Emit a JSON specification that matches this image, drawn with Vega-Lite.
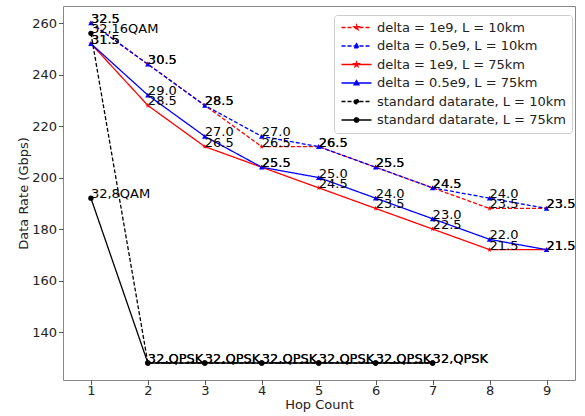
{
  "$schema": "https://vega.github.io/schema/vega-lite/v6.json",
  "width": 512,
  "height": 374,
  "autosize": {"type": "none"},
  "padding": {"left": 63, "top": 6, "right": 10, "bottom": 36},
  "background": "white",
  "config": {
    "font": "DejaVu Sans",
    "view": {"stroke": "#888888", "strokeWidth": 1},
    "axis": {
      "domain": false,
      "grid": false,
      "tickColor": "#555555",
      "tickSize": 4.5,
      "labelFont": "DejaVu Sans",
      "labelFontSize": 13,
      "labelColor": "#222222",
      "titleFont": "DejaVu Sans",
      "titleFontSize": 13,
      "titleFontWeight": "normal",
      "titleColor": "#222222"
    },
    "legend": {
      "title": null,
      "padding": 6,
      "fillColor": "rgba(255,255,255,0.85)",
      "strokeColor": "#cccccc",
      "cornerRadius": 3,
      "symbolSize": 100,
      "symbolOffset": 10,
      "symbolStrokeWidth": 1.3,
      "labelOffset": 14,
      "labelFont": "DejaVu Sans",
      "labelFontSize": 13,
      "labelColor": "#222222",
      "labelLimit": 300,
      "rowPadding": 4.5
    }
  },
  "data": {
    "values": [
      {"series": "delta = 1e9, L = 10km", "hop": 1, "rate": 260, "label": "32.5"},
      {"series": "delta = 1e9, L = 10km", "hop": 2, "rate": 244, "label": "30.5"},
      {"series": "delta = 1e9, L = 10km", "hop": 3, "rate": 228, "label": "28.5"},
      {"series": "delta = 1e9, L = 10km", "hop": 4, "rate": 212, "label": "26.5"},
      {"series": "delta = 1e9, L = 10km", "hop": 5, "rate": 212, "label": "26.5"},
      {"series": "delta = 1e9, L = 10km", "hop": 6, "rate": 204, "label": "25.5"},
      {"series": "delta = 1e9, L = 10km", "hop": 7, "rate": 196, "label": "24.5"},
      {"series": "delta = 1e9, L = 10km", "hop": 8, "rate": 188, "label": "23.5"},
      {"series": "delta = 1e9, L = 10km", "hop": 9, "rate": 188, "label": "23.5"},
      {"series": "delta = 0.5e9, L = 10km", "hop": 1, "rate": 260, "label": "32.5"},
      {"series": "delta = 0.5e9, L = 10km", "hop": 2, "rate": 244, "label": "30.5"},
      {"series": "delta = 0.5e9, L = 10km", "hop": 3, "rate": 228, "label": "28.5"},
      {"series": "delta = 0.5e9, L = 10km", "hop": 4, "rate": 216, "label": "27.0"},
      {"series": "delta = 0.5e9, L = 10km", "hop": 5, "rate": 212, "label": "26.5"},
      {"series": "delta = 0.5e9, L = 10km", "hop": 6, "rate": 204, "label": "25.5"},
      {"series": "delta = 0.5e9, L = 10km", "hop": 7, "rate": 196, "label": "24.5"},
      {"series": "delta = 0.5e9, L = 10km", "hop": 8, "rate": 192, "label": "24.0"},
      {"series": "delta = 0.5e9, L = 10km", "hop": 9, "rate": 188, "label": "23.5"},
      {"series": "delta = 1e9, L = 75km", "hop": 1, "rate": 252, "label": "31.5"},
      {"series": "delta = 1e9, L = 75km", "hop": 2, "rate": 228, "label": "28.5"},
      {"series": "delta = 1e9, L = 75km", "hop": 3, "rate": 212, "label": "26.5"},
      {"series": "delta = 1e9, L = 75km", "hop": 4, "rate": 204, "label": "25.5"},
      {"series": "delta = 1e9, L = 75km", "hop": 5, "rate": 196, "label": "24.5"},
      {"series": "delta = 1e9, L = 75km", "hop": 6, "rate": 188, "label": "23.5"},
      {"series": "delta = 1e9, L = 75km", "hop": 7, "rate": 180, "label": "22.5"},
      {"series": "delta = 1e9, L = 75km", "hop": 8, "rate": 172, "label": "21.5"},
      {"series": "delta = 1e9, L = 75km", "hop": 9, "rate": 172, "label": "21.5"},
      {"series": "delta = 0.5e9, L = 75km", "hop": 1, "rate": 252, "label": "31.5"},
      {"series": "delta = 0.5e9, L = 75km", "hop": 2, "rate": 232, "label": "29.0"},
      {"series": "delta = 0.5e9, L = 75km", "hop": 3, "rate": 216, "label": "27.0"},
      {"series": "delta = 0.5e9, L = 75km", "hop": 4, "rate": 204, "label": "25.5"},
      {"series": "delta = 0.5e9, L = 75km", "hop": 5, "rate": 200, "label": "25.0"},
      {"series": "delta = 0.5e9, L = 75km", "hop": 6, "rate": 192, "label": "24.0"},
      {"series": "delta = 0.5e9, L = 75km", "hop": 7, "rate": 184, "label": "23.0"},
      {"series": "delta = 0.5e9, L = 75km", "hop": 8, "rate": 176, "label": "22.0"},
      {"series": "delta = 0.5e9, L = 75km", "hop": 9, "rate": 172, "label": "21.5"},
      {"series": "standard datarate, L = 10km", "hop": 1, "rate": 256, "label": "32,16QAM"},
      {"series": "standard datarate, L = 10km", "hop": 2, "rate": 128, "label": "32,QPSK"},
      {"series": "standard datarate, L = 10km", "hop": 3, "rate": 128, "label": "32,QPSK"},
      {"series": "standard datarate, L = 10km", "hop": 4, "rate": 128, "label": "32,QPSK"},
      {"series": "standard datarate, L = 10km", "hop": 5, "rate": 128, "label": "32,QPSK"},
      {"series": "standard datarate, L = 10km", "hop": 6, "rate": 128, "label": "32,QPSK"},
      {"series": "standard datarate, L = 10km", "hop": 7, "rate": 128, "label": "32,QPSK"},
      {"series": "standard datarate, L = 75km", "hop": 1, "rate": 192, "label": "32,8QAM"},
      {"series": "standard datarate, L = 75km", "hop": 2, "rate": 128, "label": "32,QPSK"},
      {"series": "standard datarate, L = 75km", "hop": 3, "rate": 128, "label": "32,QPSK"},
      {"series": "standard datarate, L = 75km", "hop": 4, "rate": 128, "label": "32,QPSK"},
      {"series": "standard datarate, L = 75km", "hop": 5, "rate": 128, "label": "32,QPSK"},
      {"series": "standard datarate, L = 75km", "hop": 6, "rate": 128, "label": "32,QPSK"},
      {"series": "standard datarate, L = 75km", "hop": 7, "rate": 128, "label": "32,QPSK"}
    ]
  },
  "encoding": {
    "x": {
      "field": "hop", "type": "quantitative",
      "scale": {"domain": [0.51, 9.5], "nice": false, "zero": false},
      "axis": {"values": [1,2,3,4,5,6,7,8,9], "title": "Hop Count", "labelPadding": 0, "titlePadding": 1}
    },
    "y": {
      "field": "rate", "type": "quantitative",
      "scale": {"domain": [121.4, 266.6], "nice": false, "zero": false},
      "axis": {"values": [140,160,180,200,220,240,260], "title": "Data Rate (Gbps)", "labelPadding": 2, "titlePadding": 1}
    }
  },
  "layer": [
    {
      "mark": {"type": "line", "strokeWidth": 1.3},
      "encoding": {
        "color": {
          "field": "series", "type": "nominal",
          "scale": {
            "domain": ["delta = 1e9, L = 10km", "delta = 0.5e9, L = 10km", "delta = 1e9, L = 75km", "delta = 0.5e9, L = 75km", "standard datarate, L = 10km", "standard datarate, L = 75km"],
            "range": ["#ff0000", "#0000ff", "#ff0000", "#0000ff", "#000000", "#000000"]
          },
          "legend": {"orient": "none", "legendX": 271, "legendY": 9, "title": null}
        },
        "strokeDash": {
          "field": "series", "type": "nominal",
          "scale": {
            "domain": ["delta = 1e9, L = 10km", "delta = 0.5e9, L = 10km", "delta = 1e9, L = 75km", "delta = 0.5e9, L = 75km", "standard datarate, L = 10km", "standard datarate, L = 75km"],
            "range": [[4, 2], [4, 2], [1, 0], [1, 0], [4, 2], [1, 0]]
          },
          "legend": {"orient": "none", "legendX": 271, "legendY": 9, "title": null}
        }
      }
    },
    {
      "transform": [{"filter": {"field": "series", "oneOf": ["delta = 1e9, L = 10km", "delta = 1e9, L = 75km"]}}],
      "mark": {"type": "point", "filled": true, "opacity": 1, "size": 30, "shape": "M0,-1L0.223,-0.307L0.951,-0.309L0.361,0.117L0.588,0.809L0,0.38L-0.588,0.809L-0.361,0.117L-0.951,-0.309L-0.223,-0.307Z"},
      "encoding": {"color": {"field": "series", "type": "nominal", "legend": null}}
    },
    {
      "transform": [{"filter": {"field": "series", "oneOf": ["delta = 0.5e9, L = 10km", "delta = 0.5e9, L = 75km"]}}],
      "mark": {"type": "point", "filled": true, "opacity": 1, "size": 30, "shape": "triangle-up"},
      "encoding": {"color": {"field": "series", "type": "nominal", "legend": null}}
    },
    {
      "transform": [{"filter": {"field": "series", "oneOf": ["standard datarate, L = 10km", "standard datarate, L = 75km"]}}],
      "mark": {"type": "point", "filled": true, "opacity": 1, "size": 28, "shape": "circle"},
      "encoding": {"color": {"field": "series", "type": "nominal", "legend": null}}
    },
    {
      "mark": {"type": "text", "align": "left", "baseline": "alphabetic", "fontSize": 13, "font": "DejaVu Sans", "color": "#000000"},
      "encoding": {"text": {"field": "label", "type": "nominal"}}
    },
    {
      "transform": [{"filter": "datum.hop > 100"}],
      "mark": {"type": "point", "filled": false, "opacity": 1, "strokeWidth": 1.3},
      "encoding": {
        "color": {"field": "series", "type": "nominal", "legend": null},
        "shape": {
          "field": "series", "type": "nominal",
          "scale": {
            "domain": ["delta = 1e9, L = 10km", "delta = 0.5e9, L = 10km", "delta = 1e9, L = 75km", "delta = 0.5e9, L = 75km", "standard datarate, L = 10km", "standard datarate, L = 75km"],
            "range": [
              "M-3,0H3M0,-0.5L0.112,-0.153L0.476,-0.154L0.18,0.058L0.294,0.404L0,0.19L-0.294,0.404L-0.18,0.058L-0.476,-0.154L-0.112,-0.153Z",
              "M-3,0H3M0,-0.5L0.5,0.38L-0.5,0.38Z",
              "M-3,0H3M0,-0.5L0.112,-0.153L0.476,-0.154L0.18,0.058L0.294,0.404L0,0.19L-0.294,0.404L-0.18,0.058L-0.476,-0.154L-0.112,-0.153Z",
              "M-3,0H3M0,-0.5L0.5,0.38L-0.5,0.38Z",
              "M-3,0H3M-0.45,0A0.45,0.45,0,1,0,0.45,0A0.45,0.45,0,1,0,-0.45,0Z",
              "M-3,0H3M-0.45,0A0.45,0.45,0,1,0,0.45,0A0.45,0.45,0,1,0,-0.45,0Z"
            ]
          },
          "legend": {"orient": "none", "legendX": 271, "legendY": 9, "title": null}
        }
      }
    }
  ]
}
